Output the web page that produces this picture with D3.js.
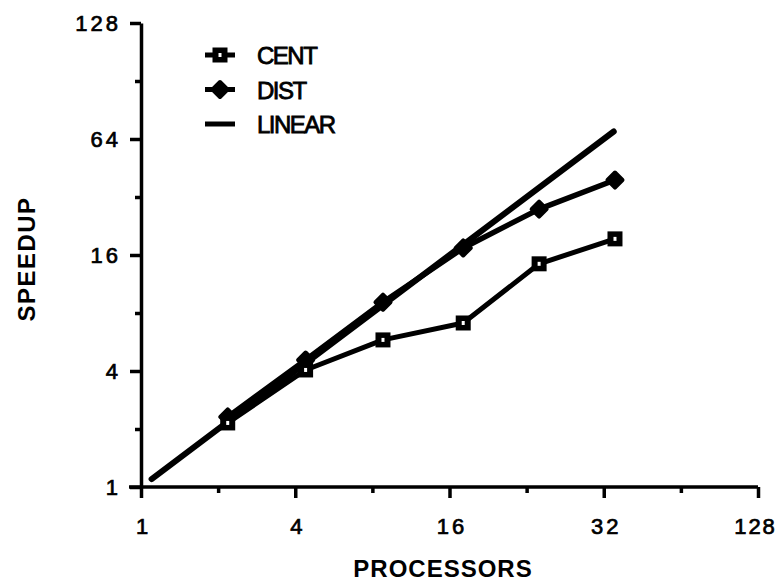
<!DOCTYPE html>
<html>
<head>
<meta charset="utf-8">
<script src="https://cdn.jsdelivr.net/npm/d3@7"></script>
<style>
  body { margin: 0; background: #fff; }
  text { font-family: "Liberation Sans", Arial, sans-serif; fill: #000; }
</style>
</head>
<body>
<svg id="chart" width="781" height="581"></svg>
<script>
// processors (log2 axis) and speedup values
const procs = [2.18, 4.39, 8.8, 18.1, 35.8, 70.8];
const centSpeedup = [2.15, 4.05, 5.8, 7.1, 14.4, 19.4];
const distSpeedup = [2.31, 4.56, 9.1, 17.4, 27.7, 39.2];
const linearEnds = [1.1, 70];

const xTicks = [1, 4, 16, 64, 256];
const xTickLabels = ['1', '4', '16', '32', '128'];
const xMinor = [2, 8, 32, 128];
const yTicks = [1, 4, 16, 64, 256];
const yTickLabels = ['1', '4', '16', '64', '128'];
const yMinor = [2, 8, 32, 128];

const legendItems = ['CENT', 'DIST', 'LINEAR'];

const svg = d3.select('#chart');

const x = d3.scaleLog().base(2).domain([1, 256]).range([141, 758]);
const y = d3.scaleLog().base(2).domain([1, 256]).range([487, 23]);

// axes
const xAxisG = svg.append('g').attr('transform', `translate(0,${y(1)})`);
xAxisG.call(d3.axisBottom(x).tickValues(xTicks).tickSize(11).tickSizeOuter(0)
    .tickFormat((d, i) => xTickLabels[i]));
xAxisG.append('g').call(d3.axisBottom(x).tickValues(xMinor).tickSize(6).tickFormat(''))
    .select('.domain').remove();
xAxisG.select('.domain').attr('d', `M${x(1) - 12},0H${x(256)}`);

const yAxisG = svg.append('g').attr('transform', `translate(${x(1)},0)`);
yAxisG.call(d3.axisLeft(y).tickValues(yTicks).tickSize(11).tickSizeOuter(0)
    .tickFormat((d, i) => yTickLabels[i]));
yAxisG.append('g').call(d3.axisLeft(y).tickValues(yMinor).tickSize(6).tickFormat(''))
    .select('.domain').remove();

svg.selectAll('.domain').attr('stroke', '#000').attr('stroke-width', 3.5);
svg.selectAll('.tick line').attr('stroke', '#000').attr('stroke-width', 3.5);
svg.selectAll('.tick text')
    .style('font-size', '22px')
    .style('letter-spacing', '3px')
    .style('font-family', '"Liberation Sans", Arial, sans-serif')
    .attr('stroke', '#000').attr('stroke-width', 0.7);
xAxisG.selectAll('.tick text').attr('dy', '1.5em').attr('dx', '2px');
// last label sits at the right edge, pull it in a little
xAxisG.selectAll('.tick text').filter(d => d === 256)
    .attr('dx', '-3px').style('letter-spacing', '2px');
yAxisG.selectAll('.tick text').attr('x', -20).attr('dy', '0.36em');

// axis titles
svg.append('text')
    .attr('x', 443).attr('y', 577)
    .attr('text-anchor', 'middle')
    .style('font-size', '24px').style('font-weight', 'bold').style('letter-spacing', '1px')
    .text('PROCESSORS');
svg.append('text')
    .attr('transform', 'translate(35,259) rotate(-90)')
    .attr('text-anchor', 'middle')
    .style('font-size', '24px').style('font-weight', 'bold').style('letter-spacing', '1.5px')
    .text('SPEEDUP');

const line = d3.line().x(d => x(d[0])).y(d => y(d[1]));

// linear reference
svg.append('path')
    .datum(linearEnds.map(v => [v, v]))
    .attr('d', line)
    .attr('fill', 'none').attr('stroke', '#000').attr('stroke-width', 6)
    .attr('stroke-linecap', 'round');

const centData = procs.map((p, i) => [p, centSpeedup[i]]);
const distData = procs.map((p, i) => [p, distSpeedup[i]]);

svg.append('path').datum(distData).attr('d', line)
    .attr('fill', 'none').attr('stroke', '#000').attr('stroke-width', 5.5)
    .attr('stroke-linejoin', 'round');
svg.append('path').datum(centData).attr('d', line)
    .attr('fill', 'none').attr('stroke', '#000').attr('stroke-width', 5)
    .attr('stroke-linejoin', 'round');

function diamond(g, cx, cy) {
    g.append('path')
        .attr('d', `M${cx},${cy - 7.5}L${cx + 7.5},${cy}L${cx},${cy + 7.5}L${cx - 7.5},${cy}Z`)
        .attr('fill', '#000').attr('stroke', '#000').attr('stroke-width', 4)
        .attr('stroke-linejoin', 'round');
}
function square(g, cx, cy) {
    // filled black box with a small white dot in the middle
    g.append('path')
        .attr('d', `M${cx - 7.5},${cy - 7.5}h15v15h-15Z`)
        .attr('fill', '#000').attr('stroke', 'none');
    g.append('path')
        .attr('d', `M${cx - 1.5},${cy - 2}h3v4h-3Z`)
        .attr('fill', '#fff').attr('stroke', 'none');
}

const marks = svg.append('g');
distData.forEach(d => diamond(marks, x(d[0]), y(d[1])));
centData.forEach(d => square(marks, x(d[0]), y(d[1])));

// legend
const legend = svg.append('g');
legendItems.forEach((name, i) => {
    const ly = 55 + i * 34.5;
    legend.append('line')
        .attr('x1', 205).attr('x2', 235).attr('y1', ly).attr('y2', ly)
        .attr('stroke', '#000').attr('stroke-width', 5);
    if (name === 'CENT') square(legend, 220, ly);
    if (name === 'DIST') diamond(legend, 220, ly);
    legend.append('text')
        .attr('x', 257).attr('y', ly + 9)
        .style('font-size', '24px').style('letter-spacing', '-1.5px')
        .attr('stroke', '#000').attr('stroke-width', 0.8)
        .text(name);
});
</script>
</body>
</html>
